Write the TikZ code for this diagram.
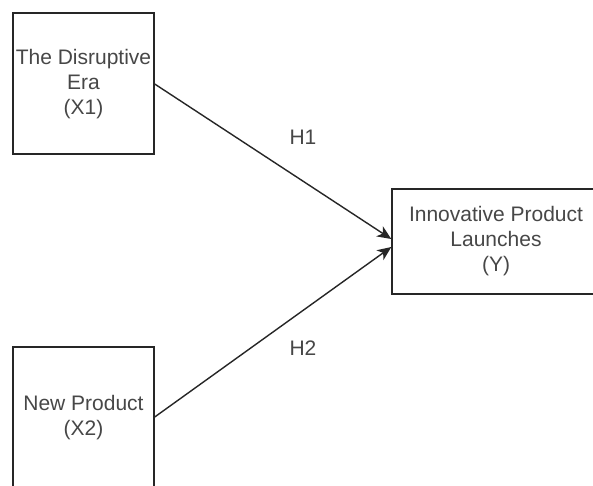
\documentclass[tikz,border=0pt]{standalone}
\usepackage{fontspec}
\setmainfont{Liberation Sans}
\usetikzlibrary{arrows.meta,calc}
\begin{document}
\begin{tikzpicture}[x=1pt,y=-1pt,
  box/.style={draw=black!85,line width=1.4pt,fill=white,minimum width=141pt,minimum height=141pt,inner sep=0pt,align=center,text=black!72,font=\fontsize{21}{25}\selectfont},
  lbl/.style={text=black!72,font=\fontsize{21}{25}\selectfont,inner sep=0pt},
  conn/.style={draw=black!85,line width=1.4pt,-{Stealth[length=14pt,width=12pt,inset=4pt]}}]
\useasboundingbox (0,0) rectangle (593,485);
\fill[white] (0,0) rectangle (593,485);
\clip (0,0) rectangle (593,485);
\node[box] (b1) at (83.5,83.5) {\strut The Disruptive\\Era\\(X1)\rule[-6pt]{0pt}{6pt}};
\node[box] (b2) at (83.5,417.5) {New Product\\(X2)};
\node[box,minimum width=208pt,minimum height=105pt] (b3) at (496,241.5) {Innovative Product\\Launches\\(Y)};
\coordinate (s1) at ($(b1.east)+(0,0.5)$);
\coordinate (t1) at ($(b3.west)+(0,-2.5)$);
\coordinate (s2) at ($(b2.east)+(0,-0.5)$);
\coordinate (t2) at ($(b3.west)+(0,5.5)$);
\draw[conn] (s1) -- (t1);
\draw[conn] (s2) -- (t2);
\node[lbl] (h1) at (303,137) {H1};
\node[lbl] (h2) at (303,348) {H2};
\end{tikzpicture}
\end{document}
